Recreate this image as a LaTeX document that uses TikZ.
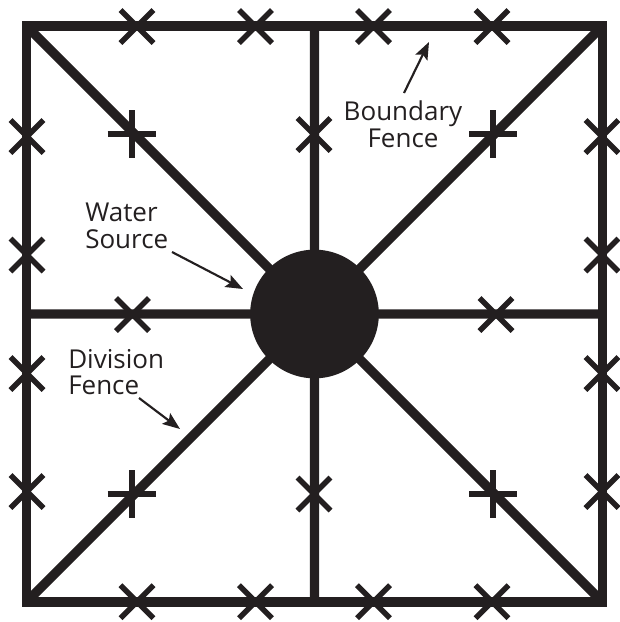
\documentclass[tikz,border=0pt]{standalone}
\usepackage{fontspec}
\setmainfont{Open Sans}
\usetikzlibrary{arrows.meta}
\definecolor{ink}{HTML}{231F20}
\tikzset{
 fence/.style={line width=7pt,line cap=butt,color=ink},
 markstroke/.style={line width=4.1pt,color=ink},
 lbl/.style={font=\fontsize{19.5pt}{20pt}\selectfont,inner sep=0pt,text=ink},
 lead/.style={line width=1.6pt,-{Stealth[length=13pt,width=10pt,inset=2.5pt]},color=ink}
}
\newcommand{\xmk}[2]{\draw[markstroke] (#1-16.5,#2-16.5)--(#1+16.5,#2+16.5) (#1-16.5,#2+16.5)--(#1+16.5,#2-16.5);}
\newcommand{\tmk}[2]{\draw[markstroke,line width=4.5pt] (#1-24,#2)--(#1+24,#2) (#1,#2-24)--(#1,#2+24);}
\begin{document}
\begin{tikzpicture}[x=0.75pt,y=-0.75pt]
\useasboundingbox (0,0) rectangle (620,622);
\coordinate (tl) at (26.5,26); \coordinate (tr) at (602.5,26);
\coordinate (bl) at (26.5,602); \coordinate (br) at (602.5,602);
\coordinate (c) at (314.5,314);
\coordinate (tm) at (314.5,26); \coordinate (bm) at (314.5,602);
\coordinate (lm) at (26.5,314); \coordinate (rm) at (602.5,314);
\draw[fence,line join=miter] (tl)--(tr)--(br)--(bl)--cycle;
\draw[fence] (tl)--(c) (tr)--(c) (bl)--(c) (br)--(c) (tm)--(bm) (lm)--(rm);
\node[circle,fill=ink,minimum size=96.5pt,inner sep=0pt] (well) at (c) {};
\foreach \x in {137,255.5,373.5,492}{\xmk{\x}{26.5}\xmk{\x}{601.7}}
\foreach \y in {136.5,255,373.5,491.5}{\xmk{27}{\y}\xmk{602}{\y}}
\xmk{314}{134.5}\xmk{314}{494}\xmk{132.5}{314.5}\xmk{496}{314.5}
\tmk{131.5}{134}\tmk{493}{134}\tmk{131.5}{494}\tmk{493}{494}
\node[lbl,align=center] (bf) at (403,124) {Boundary\\Fence};
\node[lbl,align=left,anchor=west] (ws) at (85,226) {Water\\Source};
\node[lbl,align=left,anchor=west] (df) at (68,372) {Division\\Fence};
\coordinate (a1s) at (404,93); \coordinate (a1) at (429,42);
\coordinate (a2s) at (172,252); \coordinate (a2) at (243,289);
\coordinate (a3s) at (139,398); \coordinate (a3) at (180,429);
\draw[lead] (a1s) -- (a1);
\draw[lead] (a2s) -- (a2);
\draw[lead] (a3s) -- (a3);
\end{tikzpicture}
\end{document}
